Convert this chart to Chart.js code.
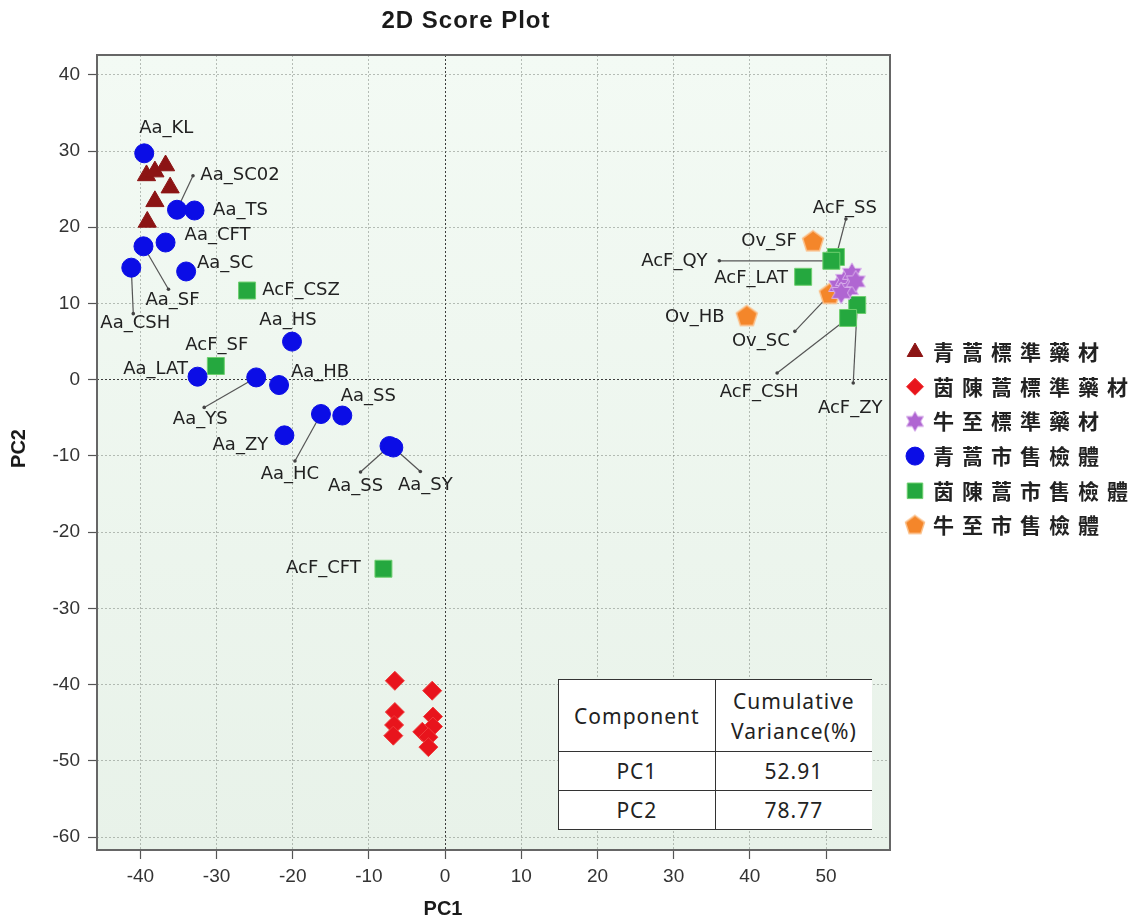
<!DOCTYPE html>
<html>
<head>
<meta charset="utf-8">
<title>2D Score Plot</title>
<script src="https://cdn.jsdelivr.net/npm/chart.js@4.4.1/dist/chart.umd.min.js"></script>
<style>
  html, body { margin: 0; padding: 0; background: #fff; }
  #wrap { position: relative; width: 1143px; height: 921px; }
  #score { position: absolute; left: 0; top: 0; }
  #variance {
    position: absolute; left: 558px; top: 679px; width: 314px;
    border-collapse: collapse; background: #fff; table-layout: fixed;
    font-family: "Noto Sans", "Open Sans", sans-serif; font-size: 21px; color: #222;
    letter-spacing: 1px;
  }
  #variance td { border: 1.5px solid #333; text-align: center; padding: 0; line-height: 30px; }
  #variance td:last-child { border-right: none; }
  #variance tr.head td { height: 71px; }
  #variance tr.row td { height: 38px; }
</style>
</head>
<body>
<div id="wrap">
  <canvas id="score" width="1143" height="921"></canvas>
  <table id="variance"></table>
</div>
<script>
// ---- data (PC1, PC2) ----

// 青蒿標準藥材
const aaStdPC1 = [-39.2, -38.1, -36.7, -36.1, -38.1, -39.1];
const aaStdPC2 = [26.8, 27.3, 28.1, 25.2, 23.4, 20.7];

// 茵陳蒿標準藥材
const acStdPC1 = [-6.6, -1.7, -6.6, -6.7, -6.8, -1.6, -1.6, -3.0, -2.2, -2.2];
const acStdPC2 = [-39.5, -40.8, -43.6, -45.3, -46.7, -44.2, -45.5, -46.2, -46.9, -48.2];

// 牛至標準藥材
const ovStdPC1 = [51.6, 52.5, 53.4, 53.0, 53.9, 52.0];
const ovStdPC2 = [12.3, 13.1, 13.9, 11.9, 12.9, 11.4];

// 青蒿市售檢體
const aaMktNames = ['Aa_KL', 'Aa_SC02', 'Aa_TS', 'Aa_CFT', 'Aa_SF', 'Aa_CSH', 'Aa_SC', 'Aa_HS',
                    'Aa_LAT', 'Aa_YS', 'Aa_HB', 'Aa_HC', 'Aa_SS', 'Aa_ZY', 'Aa_SS', 'Aa_SY'];
const aaMktPC1 = [-39.5, -35.2, -32.9, -36.7, -39.6, -41.2, -34.0, -20.1,
                  -32.5, -24.8, -21.8, -16.3, -13.5, -21.1, -7.3, -6.8];
const aaMktPC2 = [29.7, 22.3, 22.2, 18.0, 17.5, 14.7, 14.2, 5.0,
                  0.4, 0.3, -0.7, -4.5, -4.7, -7.3, -8.7, -8.9];

// 茵陳蒿市售檢體
const acMktNames = ['AcF_CSZ', 'AcF_SF', 'AcF_CFT', 'AcF_SS', 'AcF_QY', 'AcF_LAT', 'AcF_ZY', 'AcF_CSH'];
const acMktPC1 = [-26.0, -30.1, -8.1, 51.3, 50.7, 47.0, 54.1, 52.9];
const acMktPC2 = [11.7, 1.8, -24.8, 16.1, 15.6, 13.5, 9.8, 8.1];

// 牛至市售檢體
const ovMktNames = ['Ov_SF', 'Ov_HB', 'Ov_SC'];
const ovMktPC1 = [48.3, 39.6, 50.5];
const ovMktPC2 = [18.1, 8.3, 11.2];

const groupNames = ['青蒿標準藥材', '茵陳蒿標準藥材', '牛至標準藥材', '青蒿市售檢體', '茵陳蒿市售檢體', '牛至市售檢體'];

const xTicks = [-40, -30, -20, -10, 0, 10, 20, 30, 40, 50];
const yTicks = [-60, -50, -40, -30, -20, -10, 0, 10, 20, 30, 40];

const tableHeader = ['Component', 'Cumulative\nVariance(%)'];
const tableComponents = ['PC1', 'PC2'];
const cumulativeVariance = ['52.91', '78.77'];

// ---- label placement (pixel offsets from the point; optional leader end) ----
const labelLayout = {
  3: [[22, -25], [63, -34, 16, -34], [46, 0], [52, -7], [29, 54, 25, 43], [4, 56, 2, 46], [39, -8], [-4, -21],
      [-42, -7], [-56, 42, -52, 30], [41, -13], [-31, 60, -26, 47], [26, -19], [-44, 10], [-34, 40, -29, 26], [32, 38, 27, 24]],
  4: [[54, 0], [1, -21], [-60, 0], [9, -49, 10, -38], [-157, 1, -112, 0], [-52, 2], [-7, 103, -4, 78], [-89, 74, -71, 55]],
  5: [[-44, 0], [-52, 1], [-69, 47, -35, 37]]
};
const labelNames = { 3: aaMktNames, 4: acMktNames, 5: ovMktNames };

// ---- helpers ----
function toPoints(xs, ys) {
  return xs.map((x, i) => ({ x: x, y: ys[i] }));
}

function makePentagon(r, fill, stroke) {
  const c = document.createElement('canvas');
  const s = Math.ceil(r * 2 + 4);
  c.width = s; c.height = s;
  const g = c.getContext('2d');
  g.beginPath();
  for (let i = 0; i < 5; i++) {
    const a = -Math.PI / 2 + i * 2 * Math.PI / 5;
    g.lineTo(s / 2 + r * Math.cos(a), s / 2 + r * Math.sin(a));
  }
  g.closePath();
  g.fillStyle = fill; g.fill();
  g.lineWidth = 1.5; g.strokeStyle = stroke; g.stroke();
  return c;
}

function makeHexagram(r, fill, stroke) {
  const c = document.createElement('canvas');
  const s = Math.ceil(r * 2 + 4);
  c.width = s; c.height = s;
  const g = c.getContext('2d');
  const inner = r / Math.sqrt(3);
  g.beginPath();
  for (let i = 0; i < 12; i++) {
    const a = -Math.PI / 2 + i * Math.PI / 6;
    const rr = i % 2 === 0 ? r : inner;
    g.lineTo(s / 2 + rr * Math.cos(a), s / 2 + rr * Math.sin(a));
  }
  g.closePath();
  g.fillStyle = fill; g.fill();
  g.lineWidth = 1; g.strokeStyle = stroke; g.stroke();
  return c;
}

const pentagon = makePentagon(11, '#f4862a', '#fbc08a');
const hexagram = makeHexagram(11, '#b066d2', '#dab3ec');
const pentagonSmall = makePentagon(10, '#f4862a', '#fbc08a');
const hexagramSmall = makeHexagram(10, '#b066d2', '#dab3ec');

// ---- table ----
(function buildTable() {
  const t = document.getElementById('variance');
  const head = document.createElement('tr');
  head.className = 'head';
  tableHeader.forEach(h => {
    const td = document.createElement('td');
    td.innerHTML = h.replace('\n', '<br>');
    head.appendChild(td);
  });
  t.appendChild(head);
  tableComponents.forEach((name, i) => {
    const tr = document.createElement('tr');
    tr.className = 'row';
    [name, cumulativeVariance[i]].forEach(v => {
      const td = document.createElement('td');
      td.textContent = v;
      tr.appendChild(td);
    });
    t.appendChild(tr);
  });
})();

// ---- drawing extras: background, frame, titles, labels, legend ----
const scoreDecor = {
  id: 'scoreDecor',
  beforeDraw(chart) {
    const { ctx, chartArea: a } = chart;
    const g = ctx.createLinearGradient(0, a.top, 0, a.bottom);
    g.addColorStop(0, '#f3faf4');
    g.addColorStop(1, '#e8f2e9');
    ctx.save();
    ctx.fillStyle = g;
    ctx.fillRect(a.left, a.top, a.right - a.left, a.bottom - a.top);
    ctx.restore();
  },
  beforeDatasetsDraw(chart) {
    // leader lines under the markers
    const ctx = chart.ctx;
    ctx.save();
    ctx.strokeStyle = '#555';
    ctx.fillStyle = '#444';
    ctx.lineWidth = 1.2;
    Object.keys(labelLayout).forEach(ds => {
      const pts = chart.getDatasetMeta(+ds).data;
      labelLayout[ds].forEach((l, i) => {
        if (l.length < 4) return;
        const p = pts[i];
        const ex = p.x + l[2], ey = p.y + l[3];
        ctx.beginPath();
        ctx.moveTo(p.x, p.y);
        ctx.lineTo(ex, ey);
        ctx.stroke();
        ctx.beginPath();
        ctx.arc(ex, ey, 1.8, 0, Math.PI * 2);
        ctx.fill();
      });
    });
    ctx.restore();
  },
  afterDatasetsDraw(chart) {
    const { ctx, chartArea: a } = chart;
    ctx.save();
    ctx.strokeStyle = '#666';
    ctx.lineWidth = 2;
    ctx.strokeRect(a.left, a.top, a.right - a.left, a.bottom - a.top);

    ctx.font = '18px "DejaVu Sans", sans-serif';
    ctx.fillStyle = '#222';
    ctx.textAlign = 'center';
    ctx.textBaseline = 'middle';
    Object.keys(labelLayout).forEach(ds => {
      const pts = chart.getDatasetMeta(+ds).data;
      labelLayout[ds].forEach((l, i) => {
        const p = pts[i];
        ctx.fillText(labelNames[ds][i], p.x + l[0], p.y + l[1]);
      });
    });
    ctx.restore();
  },
  afterDraw(chart) {
    const { ctx, chartArea: a } = chart;
    ctx.save();
    ctx.fillStyle = '#1a1a1a';
    ctx.textAlign = 'center';
    ctx.textBaseline = 'middle';
    ctx.font = 'bold 24px "Liberation Sans", Arial, sans-serif';
    if ('letterSpacing' in ctx) ctx.letterSpacing = '1px';
    ctx.fillText('2D Score Plot', 466, 21);
    if ('letterSpacing' in ctx) ctx.letterSpacing = '0px';

    ctx.font = 'bold 20px "Liberation Sans", Arial, sans-serif';
    ctx.fillText('PC1', 443, 909);
    ctx.translate(19, (a.top + a.bottom) / 2 - 4);
    ctx.rotate(-Math.PI / 2);
    ctx.fillText('PC2', 0, 0);
    ctx.restore();

    // legend
    ctx.save();
    ctx.font = 'bold 21px "Noto Sans CJK TC", "Noto Sans CJK SC", sans-serif';
    ctx.fillStyle = '#222';
    ctx.textAlign = 'left';
    ctx.textBaseline = 'middle';
    chart.data.datasets.forEach((d, k) => {
      const y = 352 + k * 34.7;
      ctx.fillStyle = d.backgroundColor;
      ctx.strokeStyle = d.borderColor;
      ctx.lineWidth = 1;
      Chart.helpers.drawPoint(ctx, {
        pointStyle: d.legendStyle || d.pointStyle,
        radius: d.legendRadius,
        rotation: 0,
        borderWidth: 1
      }, 915, y);
      ctx.fillStyle = '#222';
      Array.from(d.label).forEach((ch, j) => ctx.fillText(ch, 933 + j * 29, y));
    });
    ctx.restore();
  }
};

const datasets = [
  { label: groupNames[0], data: toPoints(aaStdPC1, aaStdPC2), pointStyle: 'triangle', pointRadius: 10.5,
    backgroundColor: '#8c1414', borderColor: '#8c1414', legendRadius: 9 },
  { label: groupNames[1], data: toPoints(acStdPC1, acStdPC2), pointStyle: 'rectRot', pointRadius: 9.5,
    backgroundColor: '#e8141c', borderColor: '#f03a3a', legendRadius: 8.5 },
  { label: groupNames[2], data: toPoints(ovStdPC1, ovStdPC2), pointStyle: hexagram, legendStyle: hexagramSmall,
    pointRadius: 11, backgroundColor: '#b066d2', borderColor: '#b066d2', legendRadius: 10 },
  { label: groupNames[3], data: toPoints(aaMktPC1, aaMktPC2), pointStyle: 'circle', pointRadius: 9.5,
    backgroundColor: '#0b0de6', borderColor: '#0b0de6', legendRadius: 9 },
  { label: groupNames[4], data: toPoints(acMktPC1, acMktPC2), pointStyle: 'rect', pointRadius: 12,
    backgroundColor: '#25a83f', borderColor: '#6fcf6f', legendRadius: 11 },
  { label: groupNames[5], data: toPoints(ovMktPC1, ovMktPC2), pointStyle: pentagon, legendStyle: pentagonSmall,
    pointRadius: 11, backgroundColor: '#f4862a', borderColor: '#fbc08a', legendRadius: 10 }
];
datasets.forEach(d => { d.pointHoverRadius = d.pointRadius; d.borderWidth = 1; });

function gridColor(c) {
  return c.tick && c.tick.value === 0 ? '#3c3c3c' : 'rgba(120,128,120,0.5)';
}

new Chart(document.getElementById('score'), {
  type: 'scatter',
  data: { datasets: datasets },
  options: {
    responsive: false,
    animation: false,
    devicePixelRatio: 1,
    layout: { padding: { left: 0, right: 253, top: 55, bottom: 0 } },
    plugins: {
      legend: { display: false },
      title: { display: false },
      tooltip: { enabled: false }
    },
    scales: {
      x: {
        type: 'linear', position: 'bottom', min: -45.7, max: 58.4,
        afterBuildTicks: s => { s.ticks = xTicks.map(v => ({ value: v })); },
        afterFit: s => { s.height = 71; },
        ticks: { color: '#333', padding: 6, font: { family: '"Liberation Sans", Arial, sans-serif', size: 19 } },
        grid: { color: gridColor, lineWidth: 1, drawTicks: true, tickLength: 9, tickColor: '#555', tickWidth: 1.2 },
        border: { display: false, dash: [2, 2] }
      },
      y: {
        type: 'linear', position: 'left', min: -61.7, max: 42.6,
        afterBuildTicks: s => { s.ticks = yTicks.map(v => ({ value: v })); },
        afterFit: s => { s.width = 97; },
        ticks: { color: '#333', padding: 8, font: { family: '"Liberation Sans", Arial, sans-serif', size: 19 } },
        grid: { color: gridColor, lineWidth: 1, drawTicks: true, tickLength: 9, tickColor: '#555', tickWidth: 1.2 },
        border: { display: false, dash: [2, 2] }
      }
    }
  },
  plugins: [scoreDecor]
});
</script>
</body>
</html>
